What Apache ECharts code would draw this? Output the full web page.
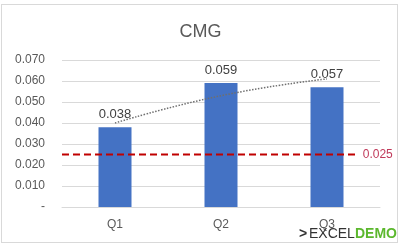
<!DOCTYPE html>
<html>
<head>
<meta charset="utf-8">
<script src="https://cdn.jsdelivr.net/npm/echarts@6/dist/echarts.min.js"></script>
<style>
html,body{margin:0;padding:0;background:#fff;}
#wrap{position:absolute;left:0;top:0;width:401px;height:247px;}
#frame{position:absolute;left:1px;top:4px;width:395px;height:237px;border:1px solid #d9d9d9;}
#c{position:absolute;left:0;top:0;width:401px;height:247px;}
</style>
</head>
<body>
<div id="wrap"><div id="frame"></div><div id="c"></div></div>
<script>
const categories = ['Q1', 'Q2', 'Q3'];
const cmgValues = [0.038, 0.059, 0.057];
const trendValues = [0.040, 0.053, 0.061];
const targetValue = 0.025;
const targetEnd = 2.29;
const yTicks = [0, 0.01, 0.02, 0.03, 0.04, 0.05, 0.06, 0.07];

const chart = echarts.init(document.getElementById('c'), null, {renderer: 'canvas'});
const font = 'Liberation Sans, Arial, sans-serif';
chart.setOption({
  animation: false,
  title: {
    text: 'CMG', left: 'center', top: 18,
    textStyle: {fontFamily: font, fontSize: 18, fontWeight: 'normal', color: '#595959'}
  },
  grid: {left: 62, right: 21, top: 60, bottom: 40, containLabel: false},
  xAxis: [
    {
      type: 'category', data: categories,
      axisLine: {lineStyle: {color: '#d9d9d9'}},
      axisTick: {show: false},
      axisLabel: {fontFamily: font, fontSize: 12, color: '#595959', margin: 12}
    },
    {
      type: 'value', min: -0.5, max: 2.5, show: false
    }
  ],
  yAxis: {
    type: 'value', min: yTicks[0], max: yTicks[yTicks.length - 1], interval: 0.01,
    axisLine: {show: false}, axisTick: {show: false},
    splitLine: {lineStyle: {color: '#d9d9d9'}},
    axisLabel: {
      fontFamily: font, fontSize: 12, color: '#595959', margin: 17,
      formatter: v => v === 0 ? '-' : v.toFixed(3)
    }
  },
  series: [
    {
      type: 'bar', data: cmgValues, barWidth: 33, xAxisIndex: 0,
      itemStyle: {color: '#4472C4'},
      label: {show: true, position: 'top', distance: 6, fontFamily: font, fontSize: 13, color: '#404040',
        formatter: p => p.value.toFixed(3)}
    },
    {
      type: 'line', xAxisIndex: 1, smooth: true, symbol: 'none',
      data: trendValues.map((v, i) => [i, v]),
      lineStyle: {color: '#6f6f6f', width: 1.5, type: [1.5, 1.5]},
      z: 5
    },
    {
      type: 'line', xAxisIndex: 1, symbol: 'none',
      data: [[-0.5, targetValue], [targetEnd, targetValue]],
      lineStyle: {color: '#C00000', width: 2, type: [7, 4]},
      endLabel: {show: true, distance: 5, formatter: targetValue.toFixed(3),
        fontFamily: font, fontSize: 12, color: '#C0395A'},
      z: 6
    }
  ],
  graphic: [
    {type: 'text', left: 299, top: 227, style: {text: '>', fontFamily: font, fontSize: 14, fill: '#333', fontWeight: 'bold'}},
    {type: 'text', left: 309, top: 227, style: {text: 'EXCEL', fontFamily: font, fontSize: 14, fill: '#333'}},
    {type: 'text', left: 355, top: 227, style: {text: 'DEMO', fontFamily: font, fontSize: 14, fill: '#5cb82e', fontWeight: 'bold'}}
  ]
});
</script>
</body>
</html>
